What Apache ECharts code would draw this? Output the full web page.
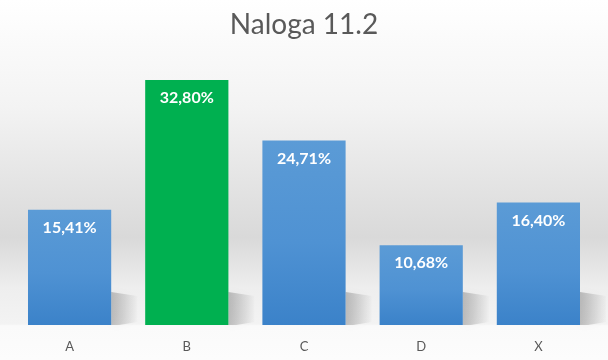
<!DOCTYPE html>
<html>
<head>
<meta charset="utf-8">
<script src="https://cdn.jsdelivr.net/npm/echarts@6/dist/echarts.min.js"></script>
<style>html,body{margin:0;padding:0;background:#fff}#c{width:608px;height:360px}</style>
</head>
<body>
<div id="c"></div>
<script>
var titleText = 'Naloga 11.2';
var categories = ['A', 'B', 'C', 'D', 'X'];
var values = [15.41, 32.80, 24.71, 10.68, 16.40];
var highlightIndex = 1;

var chart = echarts.init(document.getElementById('c'), null, {renderer: 'canvas'});
var FONT = 'Lato, "Open Sans", sans-serif';
var blueGrad = new echarts.graphic.LinearGradient(0, 0, 0, 1, [
  {offset: 0, color: '#5b9bd6'},
  {offset: 0.55, color: '#4f92d3'},
  {offset: 1, color: '#3b82c9'}
]);

chart.setOption({
  animation: false,
  backgroundColor: new echarts.graphic.LinearGradient(0, 0, 0, 1, [
    {offset: 0, color: '#ffffff'},
    {offset: 0.3, color: '#f3f3f3'},
    {offset: 0.66, color: '#d9d9d9'},
    {offset: 0.8, color: '#eeeeee'},
    {offset: 0.9, color: '#f3f3f3'},
    {offset: 0.905, color: '#fafafa'},
    {offset: 1, color: '#fcfcfc'}
  ]),
  title: {
    text: titleText,
    left: 'center',
    top: 6,
    textStyle: {fontFamily: FONT, fontSize: 28, fontWeight: 'normal', color: '#595959'}
  },
  grid: {left: 11, right: 11, top: 63.5, bottom: 35, containLabel: false},
  xAxis: {
    type: 'category',
    data: categories,
    axisLine: {show: false},
    axisTick: {show: false},
    axisLabel: {fontFamily: FONT, fontSize: 13, color: '#595959', margin: 15}
  },
  yAxis: {
    type: 'value', min: 0, max: 35, show: false,
    splitLine: {show: false}
  },
  series: [
    {
      type: 'custom',
      z: 1,
      silent: true,
      data: values,
      renderItem: function (params, api) {
        var base = api.coord([params.dataIndex, 0]);
        var band = api.size([1, 0])[0];
        var right = base[0] + band * 0.355;
        var y0 = base[1];
        return {
          type: 'polygon',
          shape: {points: [[right, y0 - 33], [right + 26, y0 - 29], [right + 26, y0 - 3], [right + 8, y0], [right, y0]]},
          style: {
            fill: new echarts.graphic.LinearGradient(0, 0, 1, 0, [
              {offset: 0, color: 'rgba(0,0,0,0.22)'},
              {offset: 1, color: 'rgba(0,0,0,0.01)'}
            ]),
            shadowBlur: 8, shadowColor: 'rgba(0,0,0,0.15)'
          }
        };
      }
    },
    {
      type: 'bar',
      z: 2,
      barCategoryGap: '29%',
      data: values.map(function (v, i) {
        return {value: v, itemStyle: {color: i === highlightIndex ? '#00b050' : blueGrad}};
      }),
      label: {
        show: true,
        position: 'insideTop',
        distance: 10,
        fontFamily: FONT,
        fontSize: 16,
        fontWeight: 'bold',
        color: '#ffffff',
        formatter: function (p) { return p.value.toFixed(2).replace('.', ',') + '%'; }
      }
    }
  ]
});
</script>
</body>
</html>
